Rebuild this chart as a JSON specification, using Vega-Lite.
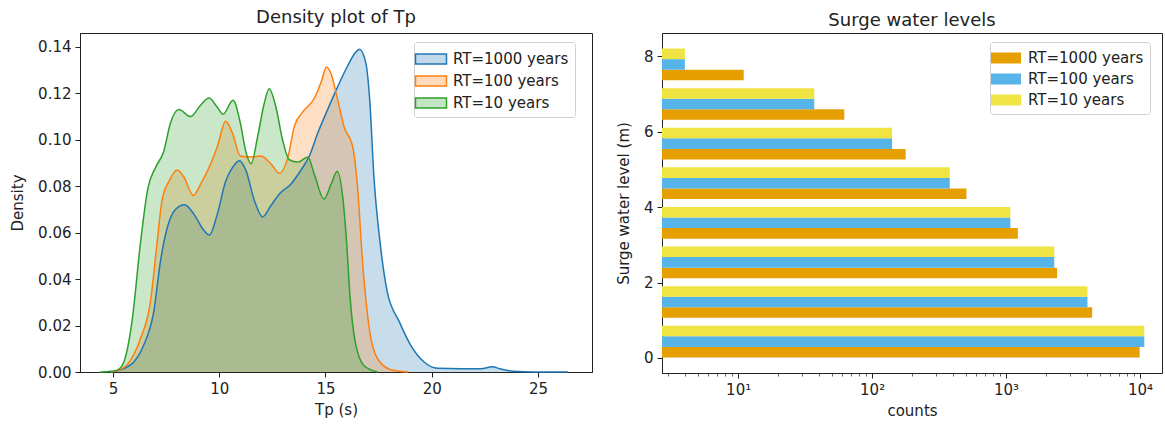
{
  "$schema": "https://vega.github.io/schema/vega-lite/v6.json",
  "background": "white",
  "padding": {"left": 10, "top": 8, "right": 0, "bottom": 0},
  "spacing": 22,
  "config": {
    "font": "DejaVu Sans",
    "view": {"stroke": "#222", "strokeWidth": 1},
    "axis": {"grid": false, "domainColor": "#222", "tickColor": "#222", "tickSize": 5, "tickWidth": 1, "labelFontSize": 15, "titleFontSize": 15, "titleFontWeight": "normal", "labelColor": "#222", "titleColor": "#222", "labelPadding": 4, "labelFont": "DejaVu Sans", "titleFont": "DejaVu Sans"},
    "title": {"fontSize": 18, "fontWeight": "normal", "color": "#222", "font": "DejaVu Sans", "anchor": "middle"},
    "legend": {"labelFont": "DejaVu Sans", "labelFontSize": 15, "labelColor": "#222"}
  },
  "datasets": {
    "density": [
      {"series": "RT=1000 years", "tp": 4.9, "density": 0},
      {"series": "RT=1000 years", "tp": 5.3, "density": 0.0008},
      {"series": "RT=1000 years", "tp": 5.98, "density": 0.0043},
      {"series": "RT=1000 years", "tp": 6.45, "density": 0.0116},
      {"series": "RT=1000 years", "tp": 6.92, "density": 0.026},
      {"series": "RT=1000 years", "tp": 7.24, "density": 0.048},
      {"series": "RT=1000 years", "tp": 7.55, "density": 0.062},
      {"series": "RT=1000 years", "tp": 7.94, "density": 0.07},
      {"series": "RT=1000 years", "tp": 8.37, "density": 0.072},
      {"series": "RT=1000 years", "tp": 8.81, "density": 0.068},
      {"series": "RT=1000 years", "tp": 9.28, "density": 0.061},
      {"series": "RT=1000 years", "tp": 9.54, "density": 0.059},
      {"series": "RT=1000 years", "tp": 9.91, "density": 0.068},
      {"series": "RT=1000 years", "tp": 10.3, "density": 0.082},
      {"series": "RT=1000 years", "tp": 10.62, "density": 0.088},
      {"series": "RT=1000 years", "tp": 10.94, "density": 0.091},
      {"series": "RT=1000 years", "tp": 11.25, "density": 0.087},
      {"series": "RT=1000 years", "tp": 11.65, "density": 0.074},
      {"series": "RT=1000 years", "tp": 12.04, "density": 0.0668},
      {"series": "RT=1000 years", "tp": 12.43, "density": 0.0716},
      {"series": "RT=1000 years", "tp": 12.83, "density": 0.0767},
      {"series": "RT=1000 years", "tp": 13.38, "density": 0.081},
      {"series": "RT=1000 years", "tp": 13.85, "density": 0.087},
      {"series": "RT=1000 years", "tp": 14.24, "density": 0.093},
      {"series": "RT=1000 years", "tp": 14.64, "density": 0.103},
      {"series": "RT=1000 years", "tp": 15.1, "density": 0.113},
      {"series": "RT=1000 years", "tp": 15.58, "density": 0.123},
      {"series": "RT=1000 years", "tp": 16.05, "density": 0.132},
      {"series": "RT=1000 years", "tp": 16.4, "density": 0.1375},
      {"series": "RT=1000 years", "tp": 16.6, "density": 0.139},
      {"series": "RT=1000 years", "tp": 16.9, "density": 0.133},
      {"series": "RT=1000 years", "tp": 17.09, "density": 0.116},
      {"series": "RT=1000 years", "tp": 17.28, "density": 0.084},
      {"series": "RT=1000 years", "tp": 17.56, "density": 0.0565},
      {"series": "RT=1000 years", "tp": 17.9, "density": 0.0348},
      {"series": "RT=1000 years", "tp": 18.47, "density": 0.0217},
      {"series": "RT=1000 years", "tp": 19.02, "density": 0.0114},
      {"series": "RT=1000 years", "tp": 19.64, "density": 0.0043},
      {"series": "RT=1000 years", "tp": 20.27, "density": 0.0016},
      {"series": "RT=1000 years", "tp": 21.37, "density": 0.0014},
      {"series": "RT=1000 years", "tp": 22.31, "density": 0.0014},
      {"series": "RT=1000 years", "tp": 22.86, "density": 0.0023},
      {"series": "RT=1000 years", "tp": 23.2, "density": 0.0014},
      {"series": "RT=1000 years", "tp": 23.86, "density": 0.0003},
      {"series": "RT=1000 years", "tp": 24.8, "density": 0},
      {"series": "RT=1000 years", "tp": 26.4, "density": 0},
      {"series": "RT=100 years", "tp": 4.9, "density": 0},
      {"series": "RT=100 years", "tp": 5.3, "density": 0.0008},
      {"series": "RT=100 years", "tp": 5.66, "density": 0.003},
      {"series": "RT=100 years", "tp": 6.3, "density": 0.0145},
      {"series": "RT=100 years", "tp": 6.76, "density": 0.03},
      {"series": "RT=100 years", "tp": 7.08, "density": 0.056},
      {"series": "RT=100 years", "tp": 7.31, "density": 0.074},
      {"series": "RT=100 years", "tp": 7.63, "density": 0.082},
      {"series": "RT=100 years", "tp": 8.02, "density": 0.087},
      {"series": "RT=100 years", "tp": 8.34, "density": 0.084},
      {"series": "RT=100 years", "tp": 8.78, "density": 0.076},
      {"series": "RT=100 years", "tp": 9.13, "density": 0.081},
      {"series": "RT=100 years", "tp": 9.52, "density": 0.088},
      {"series": "RT=100 years", "tp": 9.91, "density": 0.097},
      {"series": "RT=100 years", "tp": 10.3, "density": 0.108},
      {"series": "RT=100 years", "tp": 10.62, "density": 0.103},
      {"series": "RT=100 years", "tp": 11.0, "density": 0.093},
      {"series": "RT=100 years", "tp": 11.5, "density": 0.0926},
      {"series": "RT=100 years", "tp": 11.96, "density": 0.093},
      {"series": "RT=100 years", "tp": 12.43, "density": 0.0897},
      {"series": "RT=100 years", "tp": 12.83, "density": 0.0856},
      {"series": "RT=100 years", "tp": 13.22, "density": 0.092},
      {"series": "RT=100 years", "tp": 13.54, "density": 0.106},
      {"series": "RT=100 years", "tp": 13.93, "density": 0.112},
      {"series": "RT=100 years", "tp": 14.48, "density": 0.118},
      {"series": "RT=100 years", "tp": 14.8, "density": 0.125},
      {"series": "RT=100 years", "tp": 15.05, "density": 0.1314},
      {"series": "RT=100 years", "tp": 15.24, "density": 0.129},
      {"series": "RT=100 years", "tp": 15.58, "density": 0.117},
      {"series": "RT=100 years", "tp": 15.87, "density": 0.1057},
      {"series": "RT=100 years", "tp": 16.28, "density": 0.097},
      {"series": "RT=100 years", "tp": 16.51, "density": 0.0796},
      {"series": "RT=100 years", "tp": 16.74, "density": 0.048},
      {"series": "RT=100 years", "tp": 17.06, "density": 0.0187},
      {"series": "RT=100 years", "tp": 17.45, "density": 0.0057},
      {"series": "RT=100 years", "tp": 18.08, "density": 0.001},
      {"series": "RT=100 years", "tp": 18.9, "density": 0},
      {"series": "RT=10 years", "tp": 4.4, "density": 0},
      {"series": "RT=10 years", "tp": 4.9, "density": 0.0003},
      {"series": "RT=10 years", "tp": 5.2, "density": 0.0008},
      {"series": "RT=10 years", "tp": 5.5, "density": 0.004},
      {"series": "RT=10 years", "tp": 5.9, "density": 0.022},
      {"series": "RT=10 years", "tp": 6.3, "density": 0.056},
      {"series": "RT=10 years", "tp": 6.64, "density": 0.079},
      {"series": "RT=10 years", "tp": 7.0, "density": 0.088},
      {"series": "RT=10 years", "tp": 7.39, "density": 0.095},
      {"series": "RT=10 years", "tp": 7.7, "density": 0.107},
      {"series": "RT=10 years", "tp": 8.1, "density": 0.113},
      {"series": "RT=10 years", "tp": 8.65, "density": 0.11},
      {"series": "RT=10 years", "tp": 9.13, "density": 0.115},
      {"series": "RT=10 years", "tp": 9.52, "density": 0.118},
      {"series": "RT=10 years", "tp": 9.91, "density": 0.114},
      {"series": "RT=10 years", "tp": 10.18, "density": 0.111},
      {"series": "RT=10 years", "tp": 10.65, "density": 0.117},
      {"series": "RT=10 years", "tp": 11.0, "density": 0.107},
      {"series": "RT=10 years", "tp": 11.25, "density": 0.095},
      {"series": "RT=10 years", "tp": 11.5, "density": 0.0897},
      {"series": "RT=10 years", "tp": 11.8, "density": 0.101},
      {"series": "RT=10 years", "tp": 12.1, "density": 0.115},
      {"series": "RT=10 years", "tp": 12.35, "density": 0.122},
      {"series": "RT=10 years", "tp": 12.67, "density": 0.114},
      {"series": "RT=10 years", "tp": 12.98, "density": 0.1},
      {"series": "RT=10 years", "tp": 13.3, "density": 0.0914},
      {"series": "RT=10 years", "tp": 13.7, "density": 0.0904},
      {"series": "RT=10 years", "tp": 14.17, "density": 0.0926},
      {"series": "RT=10 years", "tp": 14.48, "density": 0.085},
      {"series": "RT=10 years", "tp": 14.93, "density": 0.0745},
      {"series": "RT=10 years", "tp": 15.27, "density": 0.081},
      {"series": "RT=10 years", "tp": 15.55, "density": 0.0865},
      {"series": "RT=10 years", "tp": 15.85, "density": 0.072},
      {"series": "RT=10 years", "tp": 16.0, "density": 0.055},
      {"series": "RT=10 years", "tp": 16.15, "density": 0.033},
      {"series": "RT=10 years", "tp": 16.4, "density": 0.013},
      {"series": "RT=10 years", "tp": 16.82, "density": 0.0027},
      {"series": "RT=10 years", "tp": 17.45, "density": 0}
    ],
    "surge": [
      {"level": 0, "series": "RT=1000 years", "count": 9940},
      {"level": 0, "series": "RT=100 years", "count": 10770},
      {"level": 0, "series": "RT=10 years", "count": 10770},
      {"level": 1.05, "series": "RT=1000 years", "count": 4395},
      {"level": 1.05, "series": "RT=100 years", "count": 4055},
      {"level": 1.05, "series": "RT=10 years", "count": 4055},
      {"level": 2.1, "series": "RT=1000 years", "count": 2404},
      {"level": 2.1, "series": "RT=100 years", "count": 2291},
      {"level": 2.1, "series": "RT=10 years", "count": 2291},
      {"level": 3.15, "series": "RT=1000 years", "count": 1225},
      {"level": 3.15, "series": "RT=100 years", "count": 1077},
      {"level": 3.15, "series": "RT=10 years", "count": 1077},
      {"level": 4.2, "series": "RT=1000 years", "count": 506},
      {"level": 4.2, "series": "RT=100 years", "count": 380},
      {"level": 4.2, "series": "RT=10 years", "count": 380},
      {"level": 5.25, "series": "RT=1000 years", "count": 178},
      {"level": 5.25, "series": "RT=100 years", "count": 141},
      {"level": 5.25, "series": "RT=10 years", "count": 141},
      {"level": 6.3, "series": "RT=1000 years", "count": 62},
      {"level": 6.3, "series": "RT=100 years", "count": 37},
      {"level": 6.3, "series": "RT=10 years", "count": 37},
      {"level": 7.35, "series": "RT=1000 years", "count": 11},
      {"level": 7.35, "series": "RT=100 years", "count": 4},
      {"level": 7.35, "series": "RT=10 years", "count": 4}
    ]
  },
  "hconcat": [
    {
      "width": 512,
      "height": 339,
      "title": {"text": "Density plot of Tp", "offset": 6},
      "data": {"name": "density"},
      "encoding": {
        "x": {"field": "tp", "type": "quantitative", "scale": {"domain": [3.45, 27.54], "nice": false, "zero": false}, "axis": {"values": [5, 10, 15, 20, 25], "format": "d", "title": "Tp (s)", "titlePadding": 6}},
        "y": {"field": "density", "type": "quantitative", "stack": null, "scale": {"domain": [0, 0.146], "nice": false}, "axis": {"values": [0, 0.02, 0.04, 0.06, 0.08, 0.1, 0.12, 0.14], "format": ".2f", "title": "Density", "titlePadding": 12}},
        "color": {
          "field": "series", "type": "nominal",
          "scale": {"domain": ["RT=1000 years", "RT=100 years", "RT=10 years"], "range": ["#1f77b4", "#ff7f0e", "#2ca02c"]},
          "legend": {
            "title": null, "orient": "none", "legendX": 334, "legendY": 9,
            "symbolType": "M-1.55,-0.5H1.55V0.5H-1.55Z", "symbolSize": 400,
            "labelFontSize": 15, "rowPadding": 3, "padding": 6, "labelOffset": 11,
            "strokeColor": "#d0d0d0", "fillColor": "#ffffff", "cornerRadius": 3,
            "encode": {"symbols": {"update": {
              "shape": {"value": "M-1.55,-0.5H1.55V0.5H-1.55Z"},
              "size": {"value": 400},
              "fill": {"signal": "datum.value == 'RT=1000 years' ? '#1f77b4' : datum.value == 'RT=100 years' ? '#ff7f0e' : '#2ca02c'"},
              "stroke": {"signal": "datum.value == 'RT=1000 years' ? '#1f77b4' : datum.value == 'RT=100 years' ? '#ff7f0e' : '#2ca02c'"},
              "fillOpacity": {"value": 0.28},
              "strokeWidth": {"value": 1.5},
              "opacity": {"value": 1}
            }}}
          }
        }
      },
      "layer": [
        {"mark": {"type": "area", "fillOpacity": 0.25, "interpolate": "monotone"}},
        {"mark": {"type": "line", "strokeWidth": 1.5, "interpolate": "monotone"}}
      ]
    },
    {
      "width": 500,
      "height": 340,
      "title": {"text": "Surge water levels", "offset": 3},
      "data": {"name": "surge"},
      "layer": [
        {
          "mark": {"type": "bar"},
          "encoding": {
            "y": {"field": "level", "type": "ordinal", "sort": "descending", "scale": {"paddingInner": 0.2, "paddingOuter": 0.393}, "axis": null},
            "yOffset": {"field": "series", "type": "nominal", "sort": ["RT=10 years", "RT=100 years", "RT=1000 years"]},
            "x": {
              "field": "count", "type": "quantitative",
              "scale": {"type": "log", "domain": [2.7, 14600], "nice": false},
              "axis": {
                "values": [3, 4, 5, 6, 7, 8, 9, 10, 20, 30, 40, 50, 60, 70, 80, 90, 100, 200, 300, 400, 500, 600, 700, 800, 900, 1000, 2000, 3000, 4000, 5000, 6000, 7000, 8000, 9000, 10000],
                "labelExpr": "datum.value == 10 ? '10¹' : datum.value == 100 ? '10²' : datum.value == 1000 ? '10³' : datum.value == 10000 ? '10⁴' : ''",
                "labelOverlap": false,
                "tickSize": {"condition": {"test": "datum.value == 10 || datum.value == 100 || datum.value == 1000 || datum.value == 10000", "value": 5}, "value": 3},
                "tickWidth": {"condition": {"test": "datum.value == 10 || datum.value == 100 || datum.value == 1000 || datum.value == 10000", "value": 1}, "value": 0.7},
                "title": "counts", "titlePadding": 6
              }
            },
            "x2": {"datum": 2.7},
            "color": {
              "field": "series", "type": "nominal",
              "scale": {"domain": ["RT=1000 years", "RT=100 years", "RT=10 years"], "range": ["#E69F00", "#56B4E9", "#F0E442"]},
              "legend": {
                "title": null, "orient": "none", "legendX": 328, "legendY": 9,
                "symbolType": "M-1.5,-0.55H1.5V0.55H-1.5Z", "symbolSize": 400,
                "labelFontSize": 15, "rowPadding": 3, "padding": 6, "labelOffset": 12,
                "strokeColor": "#d0d0d0", "fillColor": "#ffffff", "cornerRadius": 3,
                "encode": {"symbols": {"update": {
                  "shape": {"value": "M-1.5,-0.55H1.5V0.55H-1.5Z"},
                  "size": {"value": 400},
                  "fill": {"signal": "datum.value == 'RT=1000 years' ? '#E69F00' : datum.value == 'RT=100 years' ? '#56B4E9' : '#F0E442'"},
                  "fillOpacity": {"value": 1},
                  "strokeWidth": {"value": 0},
                  "opacity": {"value": 1}
                }}}
              }
            }
          }
        },
        {
          "mark": {"type": "rule", "opacity": 0},
          "encoding": {
            "y": {"field": "level", "type": "quantitative", "scale": {"domain": [-0.4, 8.62], "nice": false, "zero": false}, "axis": {"orient": "left", "values": [0, 2, 4, 6, 8], "title": "Surge water level (m)", "titlePadding": 12}}
          }
        }
      ],
      "resolve": {"scale": {"y": "independent"}}
    }
  ],
  "resolve": {"scale": {"color": "independent"}, "legend": {"color": "independent"}}
}
